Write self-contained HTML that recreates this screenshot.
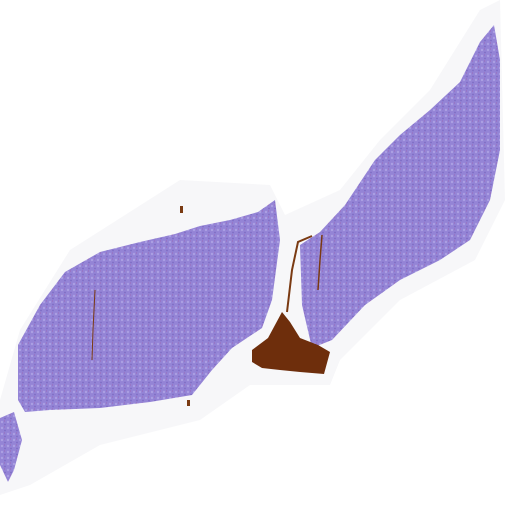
<!DOCTYPE html>
<html><head><meta charset="utf-8"><style>html,body{margin:0;padding:0;background:#fff;width:512px;height:512px;overflow:hidden}</style></head>
<body>
<svg width="512" height="512" viewBox="0 0 512 512">
<defs>
<pattern id="tex" width="6" height="6" patternUnits="userSpaceOnUse">
<rect width="6" height="6" fill="#9484d6"/>
<circle cx="2" cy="2" r="1.2" fill="#ab9fe2"/>
<circle cx="5" cy="4.5" r="0.9" fill="#7e6cc4"/>
<circle cx="4.5" cy="1" r="0.6" fill="#9a6ab8"/>
</pattern>
</defs>
<polygon fill="#f7f7f9" points="0,400 20,330 70,250 180,180 270,185 285,215 340,190 380,140 430,90 480,10 500,0 505,200 475,260 400,300 340,360 330,385 250,385 200,420 100,445 30,485 0,495"/>
<polygon fill="url(#tex)" points="18,345 40,305 65,272 100,252 140,242 175,234 200,226 230,220 258,212 275,200 280,240 272,300 262,328 232,348 212,370 192,395 150,402 100,408 50,410 25,412 18,400"/>
<polygon fill="url(#tex)" points="0,418 14,412 22,440 14,470 8,482 0,465"/>
<polygon fill="url(#tex)" points="300,245 320,232 345,205 375,160 400,135 430,110 460,82 480,42 494,25 500,60 500,150 490,200 470,240 440,260 400,280 365,305 332,340 312,348 302,305"/>
<polygon fill="#6e2e0c" points="252,350 268,338 282,312 290,322 300,338 318,345 330,352 324,374 300,372 280,370 262,368 252,362"/>
<polyline fill="none" stroke="#7a3a12" stroke-width="2" points="287,312 292,270 298,242 312,236"/>
<polyline fill="none" stroke="#7a3a12" stroke-width="1" points="95,290 93,330 92,360"/>
<polyline fill="none" stroke="#7a3a12" stroke-width="1.5" points="322,235 320,260 318,290"/>
<rect x="180" y="206" width="3" height="7" fill="#7a3a12"/>
<rect x="187" y="400" width="3" height="6" fill="#7a3a12"/>
</svg>
</body></html>
